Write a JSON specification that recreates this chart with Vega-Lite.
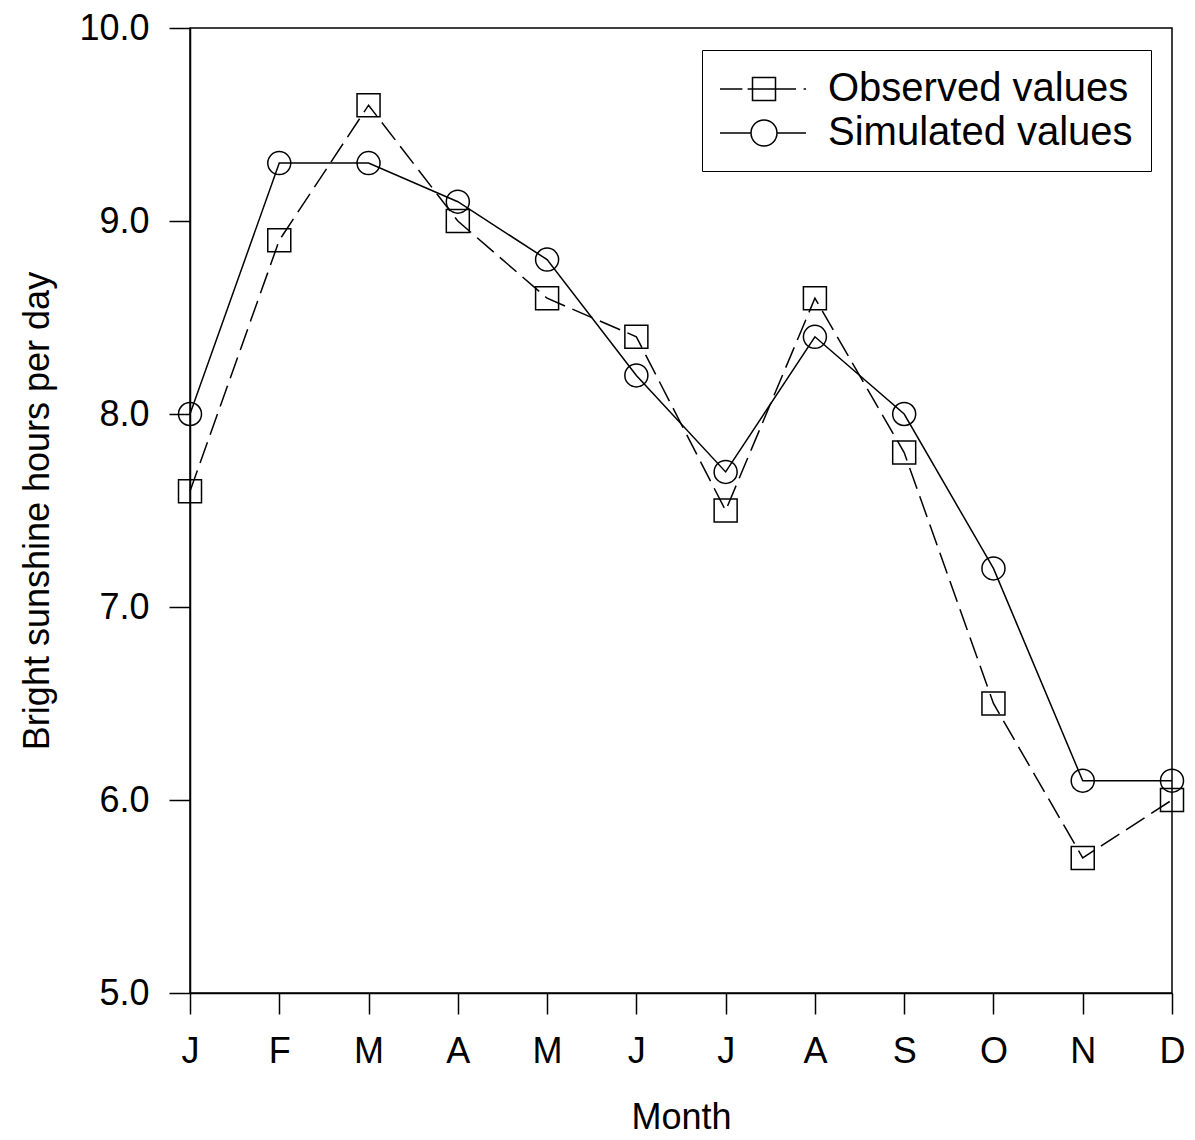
{
  "$schema": "https://vega.github.io/schema/vega-lite/v6.json",
  "width": 982,
  "height": 965,
  "autosize": {"type": "none"},
  "padding": {"left": 190, "top": 28, "right": 23, "bottom": 147},
  "background": "white",
  "config": {
    "font": "Liberation Sans",
    "view": {"stroke": "black", "strokeWidth": 1.5},
    "axis": {
      "grid": false,
      "domain": true,
      "domainColor": "black",
      "domainWidth": 1.5,
      "tickColor": "black",
      "tickWidth": 1.5,
      "tickSize": 21,
      "labelFlush": false,
      "labelColor": "black",
      "labelFont": "Liberation Sans",
      "labelFontSize": 36,
      "titleColor": "black",
      "titleFont": "Liberation Sans",
      "titleFontSize": 36,
      "titleFontWeight": "normal"
    }
  },
  "data": {
    "values": [
      {"month": 1, "series": "Observed values", "value": 7.6},
      {"month": 2, "series": "Observed values", "value": 8.9},
      {"month": 3, "series": "Observed values", "value": 9.6},
      {"month": 4, "series": "Observed values", "value": 9.0},
      {"month": 5, "series": "Observed values", "value": 8.6},
      {"month": 6, "series": "Observed values", "value": 8.4},
      {"month": 7, "series": "Observed values", "value": 7.5},
      {"month": 8, "series": "Observed values", "value": 8.6},
      {"month": 9, "series": "Observed values", "value": 7.8},
      {"month": 10, "series": "Observed values", "value": 6.5},
      {"month": 11, "series": "Observed values", "value": 5.7},
      {"month": 12, "series": "Observed values", "value": 6.0},
      {"month": 1, "series": "Simulated values", "value": 8.0},
      {"month": 2, "series": "Simulated values", "value": 9.3},
      {"month": 3, "series": "Simulated values", "value": 9.3},
      {"month": 4, "series": "Simulated values", "value": 9.1},
      {"month": 5, "series": "Simulated values", "value": 8.8},
      {"month": 6, "series": "Simulated values", "value": 8.2},
      {"month": 7, "series": "Simulated values", "value": 7.7},
      {"month": 8, "series": "Simulated values", "value": 8.4},
      {"month": 9, "series": "Simulated values", "value": 8.0},
      {"month": 10, "series": "Simulated values", "value": 7.2},
      {"month": 11, "series": "Simulated values", "value": 6.1},
      {"month": 12, "series": "Simulated values", "value": 6.1}
    ]
  },
  "encoding": {
    "x": {
      "field": "month",
      "type": "quantitative",
      "scale": {"domain": [1, 12], "nice": false, "zero": false},
      "axis": {
        "title": "Month",
        "values": [1, 2, 3, 4, 5, 6, 7, 8, 9, 10, 11, 12],
        "labelExpr": "['J','F','M','A','M','J','J','A','S','O','N','D'][datum.value - 1]",
        "labelPadding": 20,
        "titlePadding": 31
      }
    },
    "y": {
      "field": "value",
      "type": "quantitative",
      "scale": {"domain": [5, 10], "nice": false, "zero": false},
      "axis": {
        "title": "Bright sunshine hours per day",
        "values": [5, 6, 7, 8, 9, 10],
        "format": ".1f",
        "labelPadding": 20,
        "titlePadding": 22
      }
    }
  },
  "layer": [
    {
      "transform": [{"filter": "datum.series === 'Observed values'"}],
      "mark": {"type": "line", "color": "black", "strokeWidth": 1.5, "strokeDash": [22, 8]}
    },
    {
      "transform": [{"filter": "datum.series === 'Simulated values'"}],
      "mark": {"type": "line", "color": "black", "strokeWidth": 1.5}
    },
    {
      "transform": [{"filter": "datum.series === 'Observed values'"}],
      "mark": {"type": "point", "shape": "square", "size": 529, "filled": false, "color": "black", "strokeWidth": 1.5, "opacity": 1}
    },
    {
      "transform": [{"filter": "datum.series === 'Simulated values'"}],
      "mark": {"type": "point", "shape": "circle", "size": 530, "filled": false, "color": "black", "strokeWidth": 1.5, "opacity": 1}
    },
    {
      "mark": {"type": "point", "filled": false, "color": "black", "strokeWidth": 1.5, "opacity": 0, "size": 1},
      "encoding": {
        "shape": {
          "field": "series",
          "type": "nominal",
          "scale": {
            "domain": ["Observed values", "Simulated values"],
            "range": [
              "M-2.2,0H-1.08M-0.82,0H0.575M-0.575,-0.575H0.575V0.575H-0.575ZM0.575,0H1.6M1.98,0H2.1",
              "M-2.2,0H-0.65M0.65,0H2.1M0.65,0A0.65,0.65 0 1,1 -0.65,0A0.65,0.65 0 1,1 0.65,0Z"
            ]
          },
          "legend": {
            "title": null,
            "orient": "none",
            "legendX": 512,
            "legendY": 22,
            "padding": 18,
            "rowPadding": 3,
            "strokeColor": "black",
            "fillColor": "white",
            "symbolSize": 1600,
            "symbolStrokeWidth": 1.5,
            "symbolOpacity": 1,
            "symbolStrokeColor": "black",
            "symbolFillColor": "transparent",
            "symbolOffset": 23,
            "labelOffset": 43,
            "labelFont": "Liberation Sans",
            "labelFontSize": 40,
            "labelColor": "black",
            "labelLimit": 500,
            "encode": {
              "legend": {"strokeWidth": {"value": 1.5}},
              "symbols": {
                "fill": {"value": "transparent"},
                "stroke": {"value": "black"},
                "opacity": {"value": 1},
                "strokeWidth": {"value": 1.5},
                "size": {"value": 1600}
              }
            }
          }
        }
      }
    }
  ]
}
